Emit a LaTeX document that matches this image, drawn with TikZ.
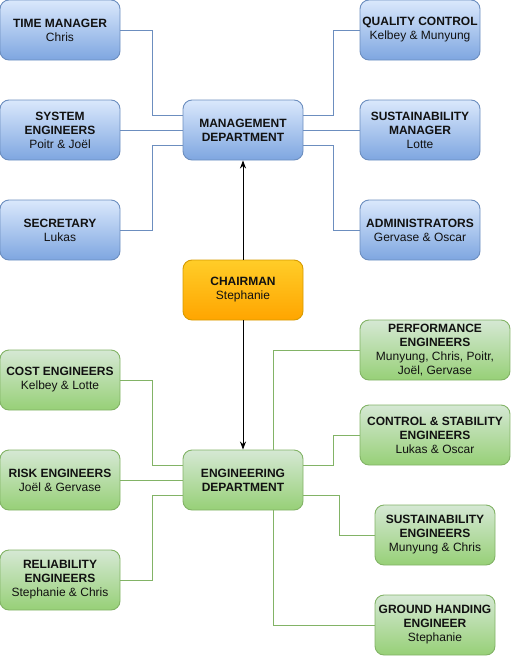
\documentclass[tikz,border=0pt]{standalone}
\usepackage{fontspec}
\setmainfont{Liberation Sans}
\usetikzlibrary{arrows.meta}
\definecolor{blueTop}{HTML}{DAE8FC}
\definecolor{blueBot}{HTML}{7EA6E0}
\definecolor{blueEdge}{HTML}{6C8EBF}
\definecolor{greenTop}{HTML}{D5E8D4}
\definecolor{greenBot}{HTML}{97D077}
\definecolor{greenEdge}{HTML}{82B366}
\definecolor{orangeTop}{HTML}{FFCD28}
\definecolor{orangeBot}{HTML}{FFA500}
\definecolor{orangeEdge}{HTML}{D79B00}
\definecolor{txt}{HTML}{111111}
\tikzset{
  unit/.style={rounded corners=9pt, line width=0.9pt, align=center, inner sep=0pt,
    minimum width=120pt, minimum height=60pt, text=txt,
    font=\fontsize{12}{14}\selectfont},
  mgmtbox/.style={unit, draw=blueEdge, top color=blueTop, bottom color=blueBot},
  engbox/.style={unit, draw=greenEdge, top color=greenTop, bottom color=greenBot},
  chairbox/.style={unit, draw=orangeEdge, top color=orangeTop, bottom color=orangeBot},
  bline/.style={draw=blueEdge, line width=0.9pt},
  gline/.style={draw=greenEdge, line width=0.9pt},
  link/.style={draw=black, line width=0.9pt, -{Stealth[length=8pt,width=6pt,inset=2.5pt]}}
}
\begin{document}
\begin{tikzpicture}[x=1pt,y=-1pt]
\useasboundingbox (0,0) rectangle (511,656);
\node[mgmtbox] (tm) at (60,30) {\textbf{TIME MANAGER}\\Chris};
\node[mgmtbox] (syseng) at (60,130) {\textbf{SYSTEM}\\\textbf{ENGINEERS}\\Poitr \& Joël};
\node[mgmtbox] (sec) at (60,230) {\textbf{SECRETARY}\\Lukas};
\node[mgmtbox] (mgmt) at (243,130) {\textbf{MANAGEMENT}\\\textbf{DEPARTMENT}};
\node[mgmtbox] (qc) at (420,30) {\textbf{QUALITY CONTROL}\\Kelbey \& Munyung};
\node[mgmtbox] (sustman) at (420,130) {\textbf{SUSTAINABILITY}\\\textbf{MANAGER}\\Lotte};
\node[mgmtbox] (admin) at (420,230) {\textbf{ADMINISTRATORS}\\Gervase \& Oscar};
\node[chairbox] (chair) at (243,290) {\textbf{CHAIRMAN}\\Stephanie};
\node[engbox] (eng) at (243,480) {\textbf{ENGINEERING}\\\textbf{DEPARTMENT}};
\node[engbox] (cost) at (60,380) {\textbf{COST ENGINEERS}\\Kelbey \& Lotte};
\node[engbox] (risk) at (60,480) {\textbf{RISK ENGINEERS}\\Joël \& Gervase};
\node[engbox] (rel) at (60,580) {\textbf{RELIABILITY}\\\textbf{ENGINEERS}\\Stephanie \& Chris};
\node[engbox, minimum width=150pt] (perf) at (435,350) {\textbf{PERFORMANCE}\\\textbf{ENGINEERS}\\Munyung, Chris, Poitr,\\Joël, Gervase};
\node[engbox, minimum width=150pt] (ctrl) at (435,435) {\textbf{CONTROL \& STABILITY}\\\textbf{ENGINEERS}\\Lukas \& Oscar};
\node[engbox] (susteng) at (435,535) {\textbf{SUSTAINABILITY}\\\textbf{ENGINEERS}\\Munyung \& Chris};
\node[engbox] (ground) at (435,625) {\textbf{GROUND HANDING}\\\textbf{ENGINEER}\\Stephanie};
\draw[bline] (tm.east) -- ++(32,0) |- ([yshift=15pt]mgmt.west);
\draw[bline] (syseng.east) -- (mgmt.west);
\draw[bline] (sec.east) -- ++(32,0) |- ([yshift=-15pt]mgmt.west);
\draw[bline] ([yshift=15pt]mgmt.east) -- ++(30,0) |- (qc.west);
\draw[bline] (mgmt.east) -- (sustman.west);
\draw[bline] ([yshift=-15pt]mgmt.east) -- ++(30,0) |- (admin.west);
\draw[link] (chair.north) -- (mgmt.south);
\draw[link] (chair.south) -- (eng.north);
\draw[gline] (cost.east) -- ++(32,0) |- ([yshift=15pt]eng.west);
\draw[gline] (risk.east) -- (eng.west);
\draw[gline] (rel.east) -- ++(32,0) |- ([yshift=-15pt]eng.west);
\draw[gline] ([xshift=30pt]eng.north) |- (perf.west);
\draw[gline] ([yshift=15pt]eng.east) -- ++(30,0) |- (ctrl.west);
\draw[gline] ([yshift=-15pt]eng.east) -- ++(36,0) |- (susteng.west);
\draw[gline] ([xshift=30pt]eng.south) |- (ground.west);
\end{tikzpicture}
\end{document}
